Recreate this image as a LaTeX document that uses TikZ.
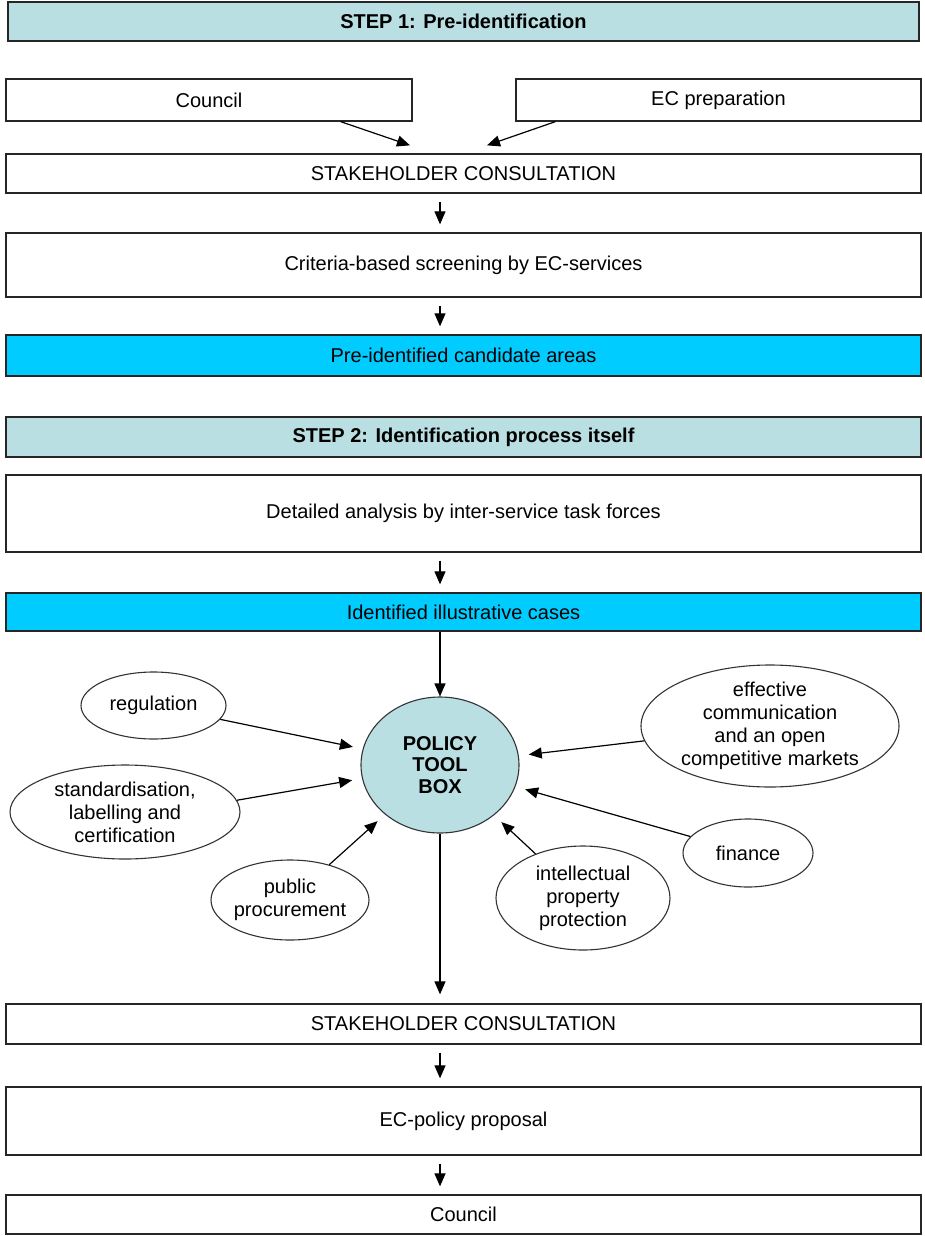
\documentclass[tikz,border=0pt]{standalone}
\usepackage{fontspec}
\setmainfont{Liberation Sans}
\usetikzlibrary{arrows.meta,shapes.geometric}

\definecolor{stepblue}{RGB}{185,223,227}
\definecolor{areacyan}{RGB}{0,204,255}

\tikzset{
  box/.style={draw=black!85,line width=1.3pt,minimum width=915pt,inner sep=0pt,align=center},
  stepbox/.style={box,fill=stepblue,font=\fontsize{20}{23}\selectfont\bfseries},
  areabox/.style={box,fill=areacyan},
  tool/.style={ellipse,draw=black!80,line width=1.1pt,align=center,inner sep=-12pt},
  arr/.style={-{Triangle[length=13pt,width=11pt]},line width=1.2pt},
}

\begin{document}
\begin{tikzpicture}[x=1pt,y=-1pt,font=\fontsize{20}{23}\selectfont]
\useasboundingbox (0,0) rectangle (924,1236);
\node[stepbox,minimum width=911pt,minimum height=39pt] (step1) at (463.5,21.5) {STEP 1: Pre-identification};
\node[box,minimum width=406pt,minimum height=42pt] (council) at (209,100) {Council};
\node[box,minimum width=405pt,minimum height=42pt] (ecprep) at (718.5,100) {EC preparation};
\node[box,minimum height=39pt] (sc1) at (463.5,173.5) {STAKEHOLDER CONSULTATION};
\node[box,minimum height=64pt] (crit) at (463.5,265) {Criteria-based screening by EC-services};
\node[areabox,minimum height=41pt] (preid) at (463.5,355.5) {Pre-identified candidate areas};
\node[stepbox,minimum height=40pt] (step2) at (463.5,437) {STEP 2: Identification process itself};
\node[box,minimum height=77pt] (detail) at (463.5,513.5) {Detailed analysis by inter-service task forces};
\node[areabox,minimum height=38pt] (ident) at (463.5,612) {Identified illustrative cases};
\node[box,minimum height=40pt] (sc2) at (463.5,1024) {STAKEHOLDER CONSULTATION};
\node[box,minimum height=68pt] (prop) at (463.5,1121) {EC-policy proposal};
\node[box,minimum height=39pt] (council2) at (463.5,1214.5) {Council};

% policy tool box and its instruments
\node[tool,fill=stepblue,minimum width=158pt,minimum height=136pt,font=\fontsize{20}{21.5}\selectfont\bfseries] (ptb) at (440,765) {POLICY\\TOOL\\BOX};
\node[tool,minimum width=145pt,minimum height=67pt] (reg) at (153.5,705.5) {regulation};
\node[tool,minimum width=230pt,minimum height=94pt] (std) at (125,812) {standardisation,\\labelling and\\certification};
\node[tool,minimum width=158pt,minimum height=80pt] (pub) at (290,900) {public\\procurement};
\node[tool,minimum width=174pt,minimum height=104pt] (ipr) at (583,898) {intellectual\\property\\protection};
\node[tool,minimum width=130pt,minimum height=68pt] (fin) at (748,853) {finance};
\node[tool,minimum width=258pt,minimum height=122pt] (com) at (770,726) {effective\\communication\\and an open\\competitive markets};

\draw[arr] ([xshift=-72pt]council.south east) -- ([xshift=-53.5pt,yshift=8pt]sc1.north);
\draw[arr] ([xshift=40pt]ecprep.south west) -- ([xshift=23.5pt,yshift=8pt]sc1.north);
\draw[arr,shorten <=8pt,shorten >=8pt] (sc1.south -| ptb) -- (crit.north -| ptb);
\draw[arr,shorten <=8pt,shorten >=8pt] (crit.south -| ptb) -- (preid.north -| ptb);
\draw[arr,shorten <=8pt,shorten >=8pt] (detail.south -| ptb) -- (ident.north -| ptb);
\draw[arr] (ident.south -| ptb) -- (ptb.north);
\draw[arr,shorten >=9pt] (ptb.south) -- (sc2.north -| ptb);
\draw[arr,shorten <=8pt,shorten >=8pt] (sc2.south -| ptb) -- (prop.north -| ptb);
\draw[arr,shorten <=8pt,shorten >=8pt] (prop.south -| ptb) -- (council2.north -| ptb);

\foreach \t in {reg,pub,ipr,fin,com}
  \draw[arr,shorten >=10pt] (\t) -- (ptb);
\draw[arr,shorten >=10pt] (std.6) -- (ptb);
\end{tikzpicture}
\end{document}
